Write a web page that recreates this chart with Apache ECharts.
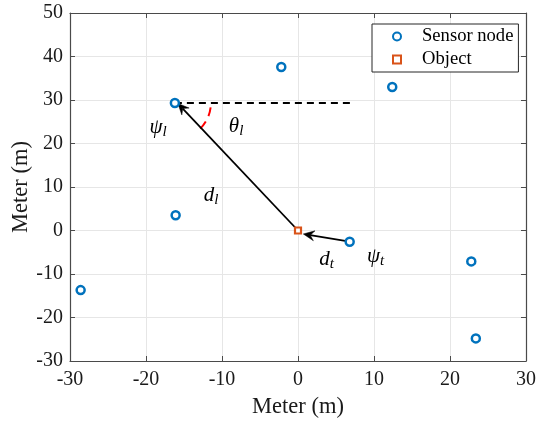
<!DOCTYPE html>
<html>
<head>
<meta charset="utf-8">
<script src="https://cdn.jsdelivr.net/npm/echarts@6/dist/echarts.min.js"></script>
<style>
html,body{margin:0;padding:0;background:#fff;}
#chart{width:537px;height:423px;}
</style>
</head>
<body>
<div id="chart"></div>
<script>
// ---- data ----
var sensorX = [-16.2, -16.1, -28.6, -2.2, 12.4, 6.8, 22.8, 23.4];
var sensorY = [29.3, 3.5, -13.7, 37.6, 33.0, -2.6, -7.1, -24.8];
var objectX = [0];
var objectY = [0];
// horizontal reference line from the sensor psi_l
var refLineX = [-16.2, 6.9];
var refLineY = [29.3, 29.3];
// arrows: start -> tip
var arrowStartX = [0, 6.2];
var arrowStartY = [0, -2.4];
var arrowEndX = [-15.8, 0.7];
var arrowEndY = [29.2, -0.8];
// angle arc: centre (sensor) and the point the arc reaches towards
var arcCenter = [-16.2, 29.3];
var arcTarget = [0, 0];
// text annotations
var labelX = [-18.4, -8.15, -11.45, 3.75, 10.2];
var labelY = [23.7, 23.8, 8.05, -6.7, -6.0];
var labelMain = ['\u03C8', '\u03B8', 'd', 'd', '\u03C8'];
var labelSub = ['l', 'l', 'l', 't', 't'];
var xTicks = [-30, -20, -10, 0, 10, 20, 30];
var yTicks = [-30, -20, -10, 0, 10, 20, 30, 40, 50];

var FONT = "'Liberation Serif','Times New Roman',serif";
var AX = '#4a4a4a';

function zip(a, b) { return a.map(function (v, i) { return [v, b[i]]; }); }

var chart = echarts.init(document.getElementById('chart'), null, {renderer: 'canvas'});

var baseAxis = {
  axisLine: {show: true, onZero: false, lineStyle: {color: AX, width: 1.2}},
  axisTick: {show: true, inside: true, length: 5, lineStyle: {color: AX, width: 1}},
  splitLine: {show: false},
  axisLabel: {show: false}
};

var option = {
  animation: false,
  backgroundColor: '#fff',
  grid: {left: 70, right: 11, top: 13, bottom: 62, containLabel: false, outerBoundsMode: 'none'},
  legend: {
    left: 372, top: 24,
    orient: 'vertical',
    backgroundColor: '#fff',
    borderColor: '#262626', borderWidth: 1,
    padding: [3, 5, 3, 20],
    itemGap: 4,
    itemWidth: 40, itemHeight: 8,
    symbolKeepAspect: true,
    textStyle: {fontFamily: FONT, fontSize: 18.6, color: '#000', lineHeight: 19},
    data: [
      {name: 'Sensor node', icon: 'circle'},
      {name: 'Object', icon: 'path://M0,0L10,0L10,10L0,10Z'}
    ],
    selectedMode: false
  },
  xAxis: [
    Object.assign({}, baseAxis, {
      type: 'value', min: -30, max: 30, interval: 10, position: 'bottom',
      axisLabel: {show: true, fontFamily: FONT, fontSize: 20, color: '#1a1a1a', margin: 9},
      splitLine: {show: true, lineStyle: {color: '#e6e6e6', width: 1}},
      name: 'Meter (m)', nameLocation: 'middle', nameGap: 35, nameMoveOverlap: false,
      nameTextStyle: {fontFamily: FONT, fontSize: 22.5, color: '#1a1a1a'}
    }),
    Object.assign({}, baseAxis, {type: 'value', min: -30, max: 30, interval: 10, position: 'top'})
  ],
  yAxis: [
    Object.assign({}, baseAxis, {
      type: 'value', min: -30, max: 50, interval: 10, position: 'left',
      axisLabel: {show: true, fontFamily: FONT, fontSize: 20, color: '#1a1a1a', margin: 7},
      splitLine: {show: true, lineStyle: {color: '#e6e6e6', width: 1}},
      name: 'Meter (m)', nameLocation: 'middle', nameGap: 37, nameMoveOverlap: false,
      nameTextStyle: {fontFamily: FONT, fontSize: 22.5, color: '#1a1a1a'}
    }),
    Object.assign({}, baseAxis, {type: 'value', min: -30, max: 50, interval: 10, position: 'right'})
  ],
  series: [
    {
      name: 'ref', type: 'line', silent: true, z: 2,
      data: zip(refLineX, refLineY), symbol: 'none',
      lineStyle: {color: '#000', width: 2, type: [7, 5]}
    },
    {
      name: 'arc', type: 'custom', silent: true, z: 2,
      data: [[arcCenter[0], arcCenter[1], arcTarget[0], arcTarget[1]]],
      renderItem: function (params, api) {
        var c = api.coord([api.value(0), api.value(1)]);
        var t = api.coord([api.value(2), api.value(3)]);
        var ang = Math.atan2(t[1] - c[1], t[0] - c[0]);
        return {
          type: 'arc',
          shape: {cx: c[0], cy: c[1], r: 36, startAngle: 0.12, endAngle: ang, clockwise: true},
          style: {fill: 'none', stroke: '#ff0000', lineWidth: 2, lineDash: [9, 6]}
        };
      }
    },
    {
      name: 'arrows', type: 'custom', silent: true, z: 3,
      data: arrowStartX.map(function (v, i) { return [v, arrowStartY[i], arrowEndX[i], arrowEndY[i]]; }),
      renderItem: function (params, api) {
        var s = api.coord([api.value(0), api.value(1)]);
        var e = api.coord([api.value(2), api.value(3)]);
        var a = Math.atan2(e[1] - s[1], e[0] - s[0]);
        var L = 11, W = 5, N = 7;
        function p(d, w) {
          return [e[0] - d * Math.cos(a) - w * Math.sin(a), e[1] - d * Math.sin(a) + w * Math.cos(a)];
        }
        var nb = p(N, 0);
        return {
          type: 'group',
          children: [
            {type: 'line', shape: {x1: s[0], y1: s[1], x2: nb[0], y2: nb[1]}, style: {stroke: '#000', lineWidth: 1.8}},
            {type: 'polygon', shape: {points: [e, p(L, W), nb, p(L, -W)]}, style: {fill: '#000', stroke: '#000', lineWidth: 0.5}}
          ]
        };
      }
    },
    {
      name: 'Sensor node', type: 'scatter', z: 4,
      data: zip(sensorX, sensorY),
      symbol: 'circle', symbolSize: 8,
      itemStyle: {color: '#fff', borderColor: '#0072BD', borderWidth: 2.5, opacity: 1},
      emphasis: {disabled: true}
    },
    {
      name: 'Object', type: 'scatter', z: 4,
      data: zip(objectX, objectY),
      symbol: 'rect', symbolSize: 6,
      itemStyle: {color: '#fff', borderColor: '#D95319', borderWidth: 2.2, opacity: 1},
      emphasis: {disabled: true}
    },
    {
      name: 'labels', type: 'custom', z: 5, silent: true,
      data: labelX.map(function (v, i) { return [v, labelY[i], i]; }),
      renderItem: function (params, api) {
        var c = api.coord([api.value(0), api.value(1)]);
        var i = api.value(2);
        return {
          type: 'text',
          x: c[0], y: c[1],
          style: {
            text: '{m|' + labelMain[i] + '}{s|' + labelSub[i] + '}',
            align: 'center', verticalAlign: 'middle',
            rich: {
              m: {fontFamily: FONT, fontStyle: 'italic', fontSize: 21, fill: '#000'},
              s: {fontFamily: FONT, fontStyle: 'italic', fontSize: 15, fill: '#000', padding: [9, 0, 0, 0]}
            }
          }
        };
      }
    }
  ]
};
chart.setOption(option);
</script>
</body>
</html>
